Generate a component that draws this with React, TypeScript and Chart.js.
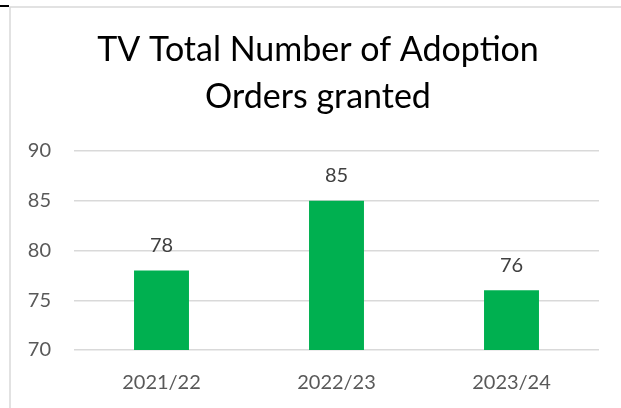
import React, { useEffect, useRef } from "react";
import { Chart, registerables } from "chart.js";

Chart.register(...registerables);

const categories = ["2021/22", "2022/23", "2023/24"];
const values = [78, 85, 76];
const yMin = 70;
const yMax = 90;
const yStep = 5;
const titleLines = ["TV Total Number of Adoption", "Orders granted"];

const FONT = "Lato, 'Open Sans', sans-serif";

const framePlugin = {
  id: "frame",
  beforeDraw(chart: any) {
    const ctx = chart.ctx;
    ctx.save();
    ctx.fillStyle = "#ffffff";
    ctx.fillRect(0, 0, chart.width, chart.height);
    ctx.strokeStyle = "#d9d9d9";
    ctx.lineWidth = 1.5;
    ctx.beginPath();
    ctx.moveTo(10, chart.height);
    ctx.lineTo(10, 7);
    ctx.lineTo(chart.width, 7);
    ctx.stroke();
    ctx.strokeStyle = "#000000";
    ctx.lineWidth = 2;
    ctx.beginPath();
    ctx.moveTo(0, 6);
    ctx.lineTo(9, 6);
    ctx.stroke();
    ctx.restore();
  },
};

const titlePlugin = {
  id: "customTitle",
  afterDraw(chart: any) {
    const ctx = chart.ctx;
    ctx.save();
    ctx.font = `34px ${FONT}`;
    ctx.fillStyle = "#000000";
    ctx.textAlign = "center";
    ctx.textBaseline = "middle";
    titleLines.forEach((line, i) => {
      ctx.fillText(line, 318, 50 + i * 47);
    });
    ctx.restore();
  },
};

const valueLabelPlugin = {
  id: "valueLabels",
  afterDatasetsDraw(chart: any) {
    const ctx = chart.ctx;
    const meta = chart.getDatasetMeta(0);
    ctx.save();
    ctx.font = `20px ${FONT}`;
    ctx.fillStyle = "#404040";
    ctx.textAlign = "center";
    ctx.textBaseline = "middle";
    meta.data.forEach((el: any, i: number) => {
      ctx.fillText(String(chart.data.datasets[0].data[i]), el.x, el.y - 25);
    });
    ctx.restore();
  },
};

export default function App() {
  const ref = useRef<HTMLCanvasElement | null>(null);

  useEffect(() => {
    if (!ref.current) return;
    const chart = new Chart(ref.current, {
      type: "bar",
      data: {
        labels: categories,
        datasets: [
          {
            data: values,
            backgroundColor: "#00b050",
            barPercentage: 0.314,
            categoryPercentage: 1,
          },
        ],
      },
      options: {
        responsive: false,
        animation: false,
        devicePixelRatio: 1,
        layout: { padding: { left: 0, right: 22, top: 151, bottom: 0 } },
        plugins: {
          legend: { display: false },
          tooltip: { enabled: false },
          title: { display: false },
        },
        scales: {
          x: {
            grid: { display: false, drawTicks: false },
            border: { display: false },
            ticks: {
              color: "#595959",
              font: { family: FONT, size: 20 },
              padding: 21,
            },
            afterFit(scale: any) {
              scale.height = 58;
            },
          },
          y: {
            min: yMin,
            max: yMax,
            grid: { color: "#d9d9d9", lineWidth: 1.5, drawTicks: false },
            border: { display: false },
            ticks: {
              stepSize: yStep,
              color: "#595959",
              font: { family: FONT, size: 20 },
              padding: 23,
            },
            afterFit(scale: any) {
              scale.width = 74;
            },
          },
        },
      },
      plugins: [framePlugin, valueLabelPlugin, titlePlugin],
    });
    return () => chart.destroy();
  }, []);

  return (
    <div style={{ position: "fixed", left: 0, top: 0, width: 621, height: 408, background: "#fff" }}>
      <canvas ref={ref} width={621} height={408} style={{ display: "block" }} />
    </div>
  );
}
